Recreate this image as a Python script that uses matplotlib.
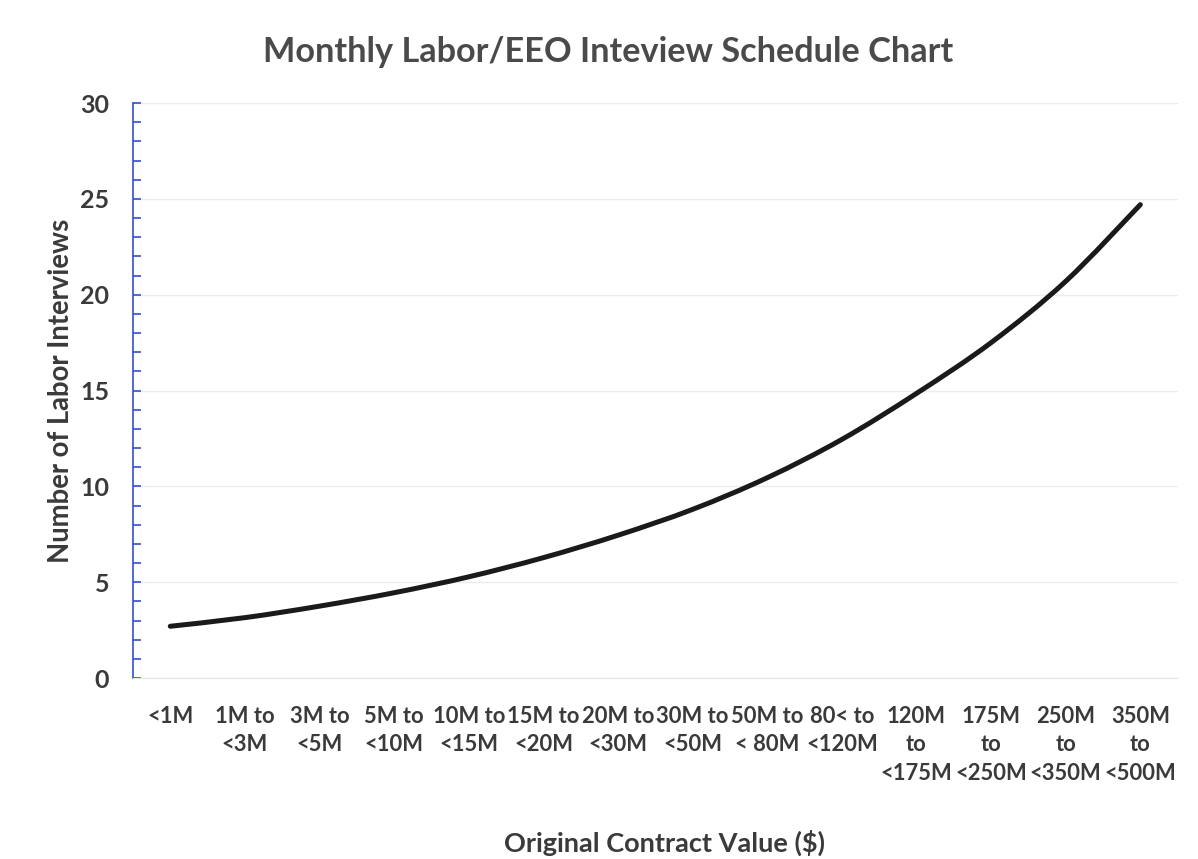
import matplotlib
matplotlib.use("Agg")
import matplotlib.pyplot as plt
from matplotlib.ticker import MultipleLocator
from matplotlib.path import Path
from matplotlib.patches import PathPatch

categories = ["<1M", "1M to\n<3M", "3M to\n<5M", "5M to\n<10M", "10M to\n<15M",
              "15M to\n<20M", "20M to\n<30M", "30M to\n<50M", "50M to\n< 80M",
              "80< to\n<120M", "120M\nto\n<175M", "175M\nto\n<250M",
              "250M\nto\n<350M", "350M\nto\n<500M"]
interviews = [2.7, 3.15, 3.75, 4.45, 5.28, 6.28, 7.45, 8.8, 10.45, 12.45, 14.85, 17.5, 20.7, 24.7]
y_ticks = [0, 5, 10, 15, 20, 25, 30]

plt.rcParams['font.family'] = ['Lato', 'DejaVu Sans']
text_color = "#3a3a3a"

fig = plt.figure(figsize=(11.98, 8.59), dpi=100)
ax = fig.add_axes([0.111, 0.2107, 0.872, 0.6693])

x = list(range(len(categories)))
# smoothed line (Excel-style Catmull-Rom / Bezier through the data points)
pts = list(zip(x, interviews))
verts = [pts[0]]
codes = [Path.MOVETO]
n = len(pts)
for i in range(n - 1):
    p0 = pts[i - 1] if i > 0 else pts[i]
    p1 = pts[i]
    p2 = pts[i + 1]
    p3 = pts[i + 2] if i + 2 < n else pts[i + 1]
    c1 = (p1[0] + (p2[0] - p0[0]) / 6, p1[1] + (p2[1] - p0[1]) / 6)
    c2 = (p2[0] - (p3[0] - p1[0]) / 6, p2[1] - (p3[1] - p1[1]) / 6)
    verts += [c1, c2, p2]
    codes += [Path.CURVE4] * 3
patch = PathPatch(Path(verts, codes), facecolor="none", edgecolor="#1a1a1a",
                  lw=3.6, capstyle="round", zorder=3)
ax.add_patch(patch)

ax.set_xlim(-0.5, len(categories) - 0.5)
ax.set_ylim(0, 30)
ax.set_yticks(y_ticks)
ax.yaxis.set_minor_locator(MultipleLocator(1))
ax.set_xticks(x)
ax.set_xticklabels(categories, fontsize=15.8, fontweight="bold", color=text_color,
                   linespacing=1.45, va="top")
ax.tick_params(axis="x", length=0, pad=20)
ax.tick_params(axis="y", which="both", direction="in", length=6, color="#3050d0",
               width=1.2, labelsize=18, labelcolor=text_color, pad=17)
for lab in ax.get_yticklabels():
    lab.set_fontweight("bold")

ax.grid(axis="y", color="#ececec", lw=1.0)
ax.set_axisbelow(True)
for s in ["top", "right"]:
    ax.spines[s].set_visible(False)
ax.spines["bottom"].set_color("#e6e6e6")
ax.spines["left"].set_color("#3050d0")
ax.spines["left"].set_linewidth(1.2)

ax.set_ylabel("Number of Labor Interviews", fontsize=19.8, fontweight="bold",
              color=text_color)
ax.yaxis.set_label_coords(-0.0565, 0.5)
fig.text(0.555, 0.0186, "Original Contract Value ($)", fontsize=19.5, fontweight="bold",
         color=text_color, ha="center", va="center")
fig.text(0.508, 0.939, "Monthly Labor/EEO Inteview Schedule Chart", fontsize=24.7,
         fontweight="bold", color="#4a4a4a", ha="center", va="center")

fig.savefig("out.png", dpi=100)
